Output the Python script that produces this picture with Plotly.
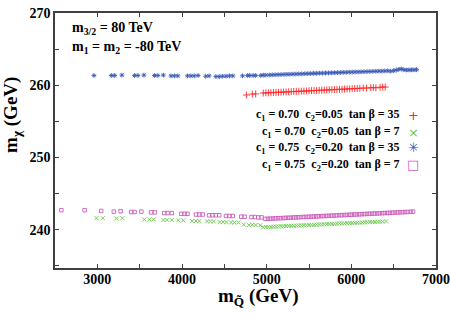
import plotly.graph_objects as go

# ---- data ----
# c1=0.70 c2=0.05 tan beta=35 (red +)
red_x = [4760, 4830, 4870, 4960, 4990, 5020, 5050, 5080, 5110, 5140, 5170, 5200, 5230, 5260, 5290,
         5320, 5350, 5380, 5410, 5440, 5470, 5500, 5530, 5560, 5590, 5620, 5650, 5680, 5710, 5740,
         5770, 5800, 5830, 5860, 5890, 5920, 5950, 5980, 6010, 6040, 6070, 6100, 6140, 6180, 6230,
         6260, 6290, 6340, 6370, 6400]
red_y = [258.65, 258.78, 258.80, 258.92, 258.94, 258.95, 258.97, 258.99, 259.01, 259.02, 259.04,
         259.06, 259.07, 259.09, 259.11, 259.13, 259.14, 259.16, 259.18, 259.19, 259.21, 259.23,
         259.25, 259.26, 259.28, 259.30, 259.31, 259.33, 259.35, 259.36, 259.38, 259.40, 259.42,
         259.43, 259.45, 259.47, 259.48, 259.50, 259.52, 259.54, 259.55, 259.57, 259.62, 259.60,
         259.66, 259.68, 259.64, 259.72, 259.74, 259.75]

# c1=0.70 c2=0.05 tan beta=7 (green x)
green_x = [2990, 3065, 3225, 3295, 3555, 3615, 3665, 3780, 3820, 3880, 3955, 4015, 4120, 4165, 4205,
           4295, 4335, 4375, 4445, 4485, 4525, 4580, 4620, 4665, 4730, 4790, 4830, 4870, 4925,
           4960, 4990, 5020, 5050, 5080, 5110, 5140, 5170, 5200, 5230, 5260, 5290, 5320, 5350, 5380,
           5410, 5440, 5470, 5500, 5530, 5560, 5590, 5620, 5650, 5680, 5710, 5740, 5770, 5800, 5830,
           5860, 5890, 5920, 5950, 5980, 6010, 6040, 6070, 6100, 6130, 6160, 6190, 6220, 6250, 6280,
           6310, 6340, 6370, 6410]
green_y = [241.60, 241.60, 241.55, 241.60, 241.40, 241.42, 241.45, 241.35, 241.35, 241.35, 241.30,
           241.30, 241.20, 241.20, 241.20, 241.15, 241.15, 241.15, 241.05, 241.05, 241.05, 241.00,
           241.00, 241.00, 240.70, 240.65, 240.68, 240.65, 240.62,
           240.35, 240.37, 240.38, 240.40, 240.42, 240.43, 240.45, 240.47, 240.48, 240.50, 240.52,
           240.53, 240.55, 240.57, 240.58, 240.60, 240.62, 240.63, 240.65, 240.67, 240.68, 240.70,
           240.72, 240.73, 240.75, 240.77, 240.78, 240.80, 240.82, 240.85, 240.88, 240.86, 240.88,
           240.90, 240.92, 240.93, 240.95, 240.97, 240.98, 241.00, 241.02, 241.03, 241.05, 241.07,
           241.08, 241.10, 241.12, 241.13, 241.15]

# c1=0.75 c2=0.20 tan beta=35 (blue asterisk)
blue_x = [2960, 3165, 3205, 3290, 3440, 3480, 3550, 3675, 3715, 3780, 3870, 3910, 3950, 4065, 4105,
          4145, 4190, 4280, 4320, 4400, 4440, 4480, 4520, 4560, 4600, 4715, 4775, 4800, 4840, 4870,
          4930, 4960, 4990, 5030, 5065, 5100, 5135, 5170, 5205, 5240, 5275, 5310, 5345, 5380, 5415,
          5450, 5485, 5520, 5555, 5590, 5625, 5660, 5695, 5730, 5765, 5800, 5835, 5870, 5905, 5940,
          5975, 6010, 6045, 6080, 6115, 6150, 6185, 6220, 6255, 6290, 6325, 6360, 6395, 6430, 6465,
          6500, 6530, 6560, 6590, 6620, 6650, 6680, 6710, 6740, 6770]
blue_y = [261.35, 261.35, 261.35, 261.40, 261.35, 261.35, 261.40, 261.35, 261.35, 261.40, 261.30,
          261.30, 261.30, 261.30, 261.30, 261.30, 261.35, 261.25, 261.30, 261.20, 261.20, 261.25,
          261.25, 261.30, 261.30, 261.30, 261.35, 261.35, 261.35, 261.35, 261.35, 261.40, 261.40,
          261.42, 261.44, 261.45, 261.47, 261.48, 261.50, 261.51, 261.52, 261.54, 261.55, 261.57,
          261.58, 261.60, 261.61, 261.62, 261.64, 261.65, 261.67, 261.68, 261.69, 261.71, 261.72,
          261.74, 261.75, 261.76, 261.78, 261.79, 261.81, 261.82, 261.84, 261.85, 261.86, 261.88,
          261.89, 261.90, 261.92, 261.93, 261.95, 261.96, 261.98, 262.00, 261.95, 262.02, 262.10,
          262.20, 262.25, 262.15, 262.10, 262.12, 262.13, 262.14, 262.15]

# c1=0.75 c2=0.20 tan beta=7 (magenta square)
mag_x = [2575, 2850, 3045, 3195, 3275, 3400, 3440, 3520, 3635, 3680, 3790, 3830, 3880, 3990, 4030,
         4065, 4165, 4205, 4245, 4320, 4360, 4400, 4440, 4520, 4560, 4600, 4700, 4740, 4820, 4860,
         4900, 4940, 4985, 5015, 5045, 5075, 5105, 5135, 5165, 5195, 5225, 5255, 5285, 5315, 5345,
         5375, 5405, 5435, 5465, 5495, 5525, 5555, 5585, 5615, 5645, 5675, 5705, 5735, 5765, 5795,
         5825, 5855, 5885, 5915, 5945, 5975, 6005, 6035, 6065, 6095, 6125, 6155, 6185, 6215, 6245,
         6275, 6305, 6335, 6365, 6395, 6425, 6455, 6485, 6515, 6545, 6575, 6605, 6635, 6665, 6700,
         6730]
mag_y = [242.70, 242.70, 242.60, 242.50, 242.55, 242.45, 242.45, 242.50, 242.40, 242.40, 242.30,
         242.30, 242.30, 242.20, 242.20, 242.20, 242.10, 242.10, 242.10, 242.00, 242.00, 242.00,
         242.00, 241.90, 241.90, 241.90, 241.80, 241.80, 241.75, 241.75, 241.70, 241.70,
         241.50, 241.52, 241.53, 241.55, 241.57, 241.59, 241.60, 241.62, 241.64, 241.65, 241.67,
         241.69, 241.71, 241.72, 241.74, 241.76, 241.77, 241.79, 241.81, 241.83, 241.84, 241.86,
         241.88, 241.89, 241.91, 241.93, 241.95, 241.96, 241.98, 242.00, 242.01, 242.03, 242.05,
         242.07, 242.08, 242.10, 242.12, 242.13, 242.15, 242.17, 242.19, 242.20, 242.22, 242.24,
         242.25, 242.27, 242.29, 242.31, 242.32, 242.34, 242.36, 242.37, 242.39, 242.41, 242.43,
         242.44, 242.46, 242.48, 242.50]

legend_labels = [
    "c<sub>1</sub> = 0.70\u00a0\u00a0c<sub>2</sub>=0.05\u00a0\u00a0tan \u03b2 = 35",
    "c<sub>1</sub> = 0.70\u00a0\u00a0c<sub>2</sub>=0.05\u00a0\u00a0tan \u03b2 = 7",
    "c<sub>1</sub> = 0.75\u00a0\u00a0c<sub>2</sub>=0.20\u00a0\u00a0tan \u03b2 = 35",
    "c<sub>1</sub> = 0.75\u00a0\u00a0c<sub>2</sub>=0.20\u00a0\u00a0tan \u03b2 = 7",
]
x_ticks = [3000, 3500, 4000, 4500, 5000, 5500, 6000, 6500, 7000]
x_ticktext = ["3000", "", "4000", "", "5000", "", "6000", "", "7000"]
y_ticks = [235, 240, 245, 250, 255, 260, 265, 270]
y_ticktext = ["", "240", "", "250", "", "260", "", "270"]

RED, GREEN, BLUE, MAG = "#ff2828", "#66c84a", "#3a58b8", "#cc5cbc"
SERIF = "Times New Roman, Liberation Serif, serif"

fig = go.Figure()
series = [
    (red_x, red_y, RED, "cross-thin-open", 5),
    (green_x, green_y, GREEN, "x-thin-open", 4),
    (blue_x, blue_y, BLUE, "asterisk-open", 4),
    (mag_x, mag_y, MAG, "square-open", 3.5),
]
for (xs, ys, col, sym, sz), name in zip(series, legend_labels):
    fig.add_trace(go.Scatter(x=xs, y=ys, mode="markers", name=name, showlegend=False,
                             marker=dict(symbol=sym, size=sz, color=col,
                                         line=dict(color=col, width=0.9))))

axis_common = dict(showgrid=False, zeroline=False, showline=True, mirror="ticks",
                   linecolor="#404040", linewidth=1.5, ticks="inside", ticklen=4,
                   tickcolor="#404040", tickwidth=1, automargin=False,
                   ticklabeloverflow="allow",
                   tickfont=dict(family=SERIF, size=14, color="black", weight="bold"))
fig.update_xaxes(range=[2500, 7000], tickvals=x_ticks, ticktext=x_ticktext,
                 ticklabelstandoff=-3, **axis_common)
fig.update_yaxes(range=[234.7, 270], tickvals=y_ticks, ticktext=y_ticktext, **axis_common)

ann = []
tf = dict(family=SERIF, size=14, color="black", weight="bold")
ann.append(dict(x=0.039, y=0.941, xref="paper", yref="paper", xanchor="left", yanchor="middle",
                text="m<sub>3/2</sub> = 80 TeV", showarrow=False, font=tf))
ann.append(dict(x=0.039, y=0.863, xref="paper", yref="paper", xanchor="left", yanchor="middle",
                text="m<sub>1</sub> = m<sub>2</sub> = -80 TeV", showarrow=False, font=tf))
leg_y = [0.60, 0.533, 0.471, 0.404]
leg_sym = ["+", "\u00d7", "\u2733", "\u25a1"]
leg_col = [RED, GREEN, BLUE, MAG]
for lab, yy, s, c in zip(legend_labels, leg_y, leg_sym, leg_col):
    ann.append(dict(x=0.911, y=yy, xref="paper", yref="paper", xanchor="right", yanchor="middle",
                    text=lab, showarrow=False,
                    font=dict(family=SERIF, size=12, color="black", weight="bold")))
    ann.append(dict(x=0.940, y=yy, xref="paper", yref="paper", xanchor="center", yanchor="middle",
                    text=s, showarrow=False,
                    font=dict(family="DejaVu Sans", size=13, color=c)))
ann.append(dict(x=-0.113, y=0.60, xref="paper", yref="paper", xanchor="center", yanchor="middle",
                text="m<sub>\u03c7</sub> (GeV)", textangle=-90, showarrow=False,
                font=dict(family=SERIF, size=19, color="black", weight="bold")))
ann.append(dict(x=0.535, y=-0.112, xref="paper", yref="paper", xanchor="center", yanchor="middle",
                text="m<sub>Q\u0303</sub> (GeV)", showarrow=False,
                font=dict(family=SERIF, size=19, color="black", weight="bold")))

fig.update_layout(width=450, height=319, margin=dict(l=55, r=14, t=13, b=51, autoexpand=False),
                  paper_bgcolor="white", plot_bgcolor="white", annotations=ann,
                  showlegend=False)
# remove the default 8px page margin so the 450x319 figure fills the window exactly
fig.write_html("out.html", config={"displayModeBar": False},
               post_script="document.body.style.margin='0';")
